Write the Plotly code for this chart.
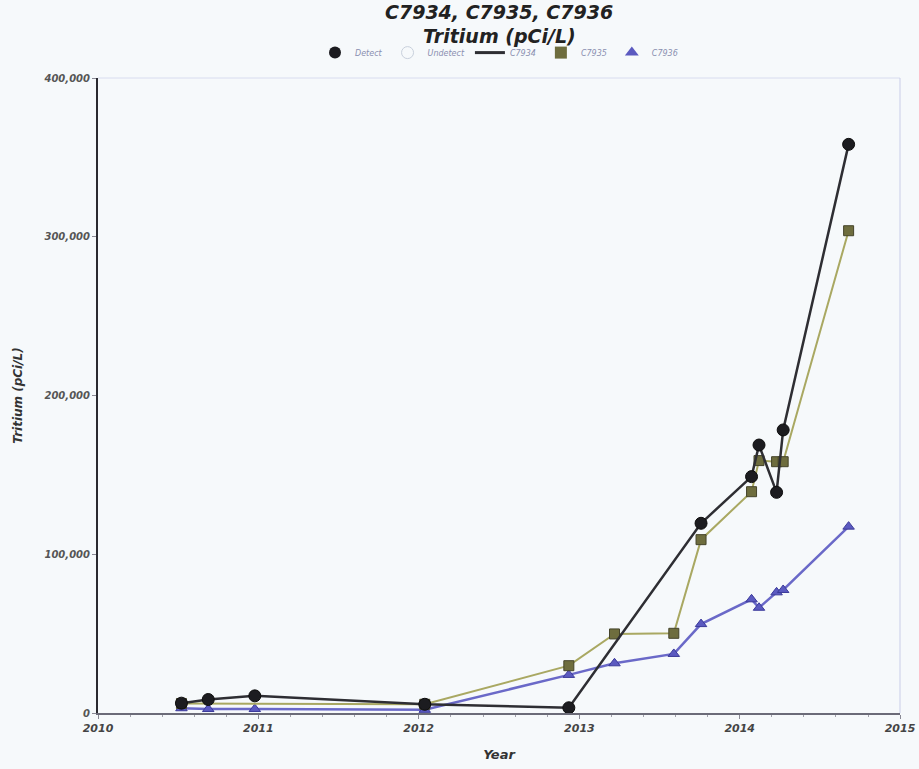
import plotly.graph_objects as go

# Sample dates (decimal-year readings converted to calendar dates)
dates_c7934 = ["2010-07-10", "2010-09-09", "2010-12-24", "2012-01-15", "2012-12-08",
               "2013-10-05", "2014-01-28", "2014-02-14", "2014-03-26", "2014-04-10",
               "2014-09-06"]
tritium_c7934 = [6200, 8500, 10800, 5500, 3300, 119500, 148900, 168800, 139000, 178300, 358200]

dates_c7935 = ["2010-07-10", "2012-01-15", "2012-12-08", "2013-03-22", "2013-08-04",
               "2013-10-05", "2014-01-28", "2014-02-14", "2014-03-26", "2014-04-10",
               "2014-09-06"]
tritium_c7935 = [6000, 5500, 29800, 49800, 50200, 109200, 139400, 159000, 158300, 158300, 303800]

dates_c7936 = ["2010-07-10", "2010-09-09", "2010-12-24", "2012-01-15", "2012-12-08",
               "2013-03-22", "2013-08-04", "2013-10-05", "2014-01-28", "2014-02-14",
               "2014-03-26", "2014-04-10", "2014-09-06"]
tritium_c7936 = [3000, 2500, 2500, 2000, 24000, 31300, 37200, 56000, 71600, 66300,
                 76000, 77500, 117400]

year_ticks = ["2010-01-01", "2011-01-01", "2012-01-01", "2013-01-01", "2014-01-01", "2015-01-01"]
year_labels = ["2010", "2011", "2012", "2013", "2014", "2015"]
y_ticks = [0, 100000, 200000, 300000, 400000]

BG = "#f6f9fb"
FONT = "DejaVu Sans"
BLACK_LINE = "#2e2e33"
GREEN_LINE = "#a9a862"
GREEN_MARK = "#6e6d3e"
BLUE_LINE = "#6a69c8"
BLUE_MARK = "#5b5ac0"
FIFTH_OF_YEAR_MS = 365.25 / 5 * 24 * 3600 * 1000

fig = go.Figure()

# Well traces
fig.add_trace(go.Scatter(
    x=dates_c7936, y=tritium_c7936, mode="lines+markers", showlegend=False,
    line=dict(color=BLUE_LINE, width=2.5),
    marker=dict(symbol="triangle-up", size=10, color=BLUE_MARK,
                line=dict(color="#3b3a9a", width=1))))
fig.add_trace(go.Scatter(
    x=dates_c7935, y=tritium_c7935, mode="lines+markers", showlegend=False,
    line=dict(color=GREEN_LINE, width=2),
    marker=dict(symbol="square", size=10, color=GREEN_MARK,
                line=dict(color="#45442a", width=1))))
fig.add_trace(go.Scatter(
    x=dates_c7934, y=tritium_c7934, mode="lines+markers", showlegend=False,
    line=dict(color=BLACK_LINE, width=2.5),
    marker=dict(symbol="circle", size=12, color="#1c1c20",
                line=dict(color="#0c0c0c", width=1))))

# Legend entries
fig.add_trace(go.Scatter(x=[None], y=[None], mode="markers", name="Detect",
                         marker=dict(symbol="circle", size=12, color="#1c1c20")))
fig.add_trace(go.Scatter(x=[None], y=[None], mode="markers", name="Undetect",
                         marker=dict(symbol="circle-open", size=12, color="#c8d0dc")))
fig.add_trace(go.Scatter(x=[None], y=[None], mode="lines", name="C7934",
                         line=dict(color=BLACK_LINE, width=3)))
fig.add_trace(go.Scatter(x=[None], y=[None], mode="markers", name="C7935",
                         marker=dict(symbol="square", size=12, color=GREEN_MARK)))
fig.add_trace(go.Scatter(x=[None], y=[None], mode="markers", name="C7936",
                         marker=dict(symbol="triangle-up", size=12, color=BLUE_MARK)))

fig.update_layout(
    width=919, height=769,
    paper_bgcolor=BG, plot_bgcolor=BG,
    margin=dict(l=98, r=19, t=78, b=56, autoexpand=False),
    font=dict(family=FONT, color="#333333"),
    legend=dict(orientation="h", x=0.5, xanchor="center", y=1.04, yanchor="middle",
                font=dict(family=FONT, size=8, color="#8a8fb0", style="italic"),
                bgcolor="rgba(0,0,0,0)", itemwidth=30, tracegroupgap=0),
    showlegend=True,
    xaxis=dict(
        type="date", range=[year_ticks[0], year_ticks[-1]],
        tickvals=year_ticks,
        ticktext=[f"<b><i>{t}</i></b>" for t in year_labels],
        showgrid=False, zeroline=False, automargin=False,
        showline=True, linecolor="#6b6b78", linewidth=2,
        ticks="outside", ticklen=4, tickcolor="#8a8a95",
        minor=dict(ticks="outside", ticklen=2, tickcolor="#a0a0aa",
                   tick0=year_ticks[0], dtick=FIFTH_OF_YEAR_MS, showgrid=False),
        tickfont=dict(family=FONT, size=11, color="#444444"),
        title=dict(text="<b><i>Year</i></b>", standoff=16,
                   font=dict(family=FONT, size=13, color="#333333"))),
    yaxis=dict(
        range=[y_ticks[0], y_ticks[-1]], tickvals=y_ticks,
        tickformat=",", showgrid=False, zeroline=False, automargin=False,
        showline=True, linecolor="#2a2a30", linewidth=2,
        ticks="outside", ticklen=4, tickcolor="#8a8a95",
        tickfont=dict(family=FONT, size=10, color="#555555", style="italic", weight="bold"),
        title=dict(text="<b><i>Tritium (pCi/L)</i></b>", standoff=18,
                   font=dict(family=FONT, size=12, color="#333333"))),
)

# Two-line chart title
fig.add_annotation(text="<b><i>C7934, C7935, C7936</i></b>", xref="paper", yref="paper",
                   x=0.5, y=1.0 + 66 / 635, xanchor="center", yanchor="middle",
                   showarrow=False, font=dict(family=FONT, size=19, color="#222222"))
fig.add_annotation(text="<b><i>Tritium (pCi/L)</i></b>", xref="paper", yref="paper",
                   x=0.5, y=1.0 + 42 / 635, xanchor="center", yanchor="middle",
                   showarrow=False, font=dict(family=FONT, size=19, color="#222222"))

# Thin light frame on the top and right of the plot area
fig.add_shape(type="line", xref="paper", yref="paper", x0=0, x1=1, y0=1, y1=1,
              line=dict(color="#d8dcef", width=1))
fig.add_shape(type="line", xref="paper", yref="paper", x0=1, x1=1, y0=0, y1=1,
              line=dict(color="#c9cde8", width=1))

fig.write_html("out.html")
